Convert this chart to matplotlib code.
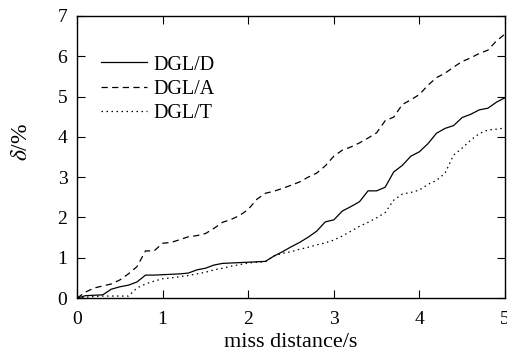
import numpy as np
import matplotlib
matplotlib.use("Agg")
import matplotlib.pyplot as plt

plt.rcParams['font.family'] = ['Liberation Serif', 'DejaVu Serif']
plt.rcParams['mathtext.fontset'] = 'stix'

# miss distance, step 0.1
x = np.round(np.arange(0, 5.01, 0.1), 1)

dgl_d = [0, 0.06, 0.07, 0.08, 0.22, 0.28, 0.32, 0.40, 0.57, 0.57,
         0.58, 0.59, 0.60, 0.62, 0.70, 0.74, 0.82, 0.86, 0.87, 0.88,
         0.89, 0.90, 0.91, 1.04, 1.15, 1.27, 1.38, 1.51, 1.66, 1.89,
         1.94, 2.16, 2.27, 2.39, 2.66, 2.66, 2.75, 3.13, 3.29, 3.52,
         3.63, 3.83, 4.09, 4.21, 4.28, 4.48, 4.56, 4.67, 4.71, 4.86,
         4.97]

dgl_a = [0, 0.15, 0.25, 0.30, 0.35, 0.45, 0.60, 0.78, 1.17, 1.17,
         1.36, 1.38, 1.45, 1.52, 1.55, 1.60, 1.73, 1.88, 1.95, 2.05,
         2.20, 2.45, 2.60, 2.65, 2.72, 2.80, 2.88, 3.00, 3.10, 3.28,
         3.52, 3.67, 3.75, 3.85, 3.97, 4.10, 4.40, 4.49, 4.80, 4.92,
         5.05, 5.28, 5.47, 5.58, 5.73, 5.87, 5.96, 6.07, 6.15, 6.38,
         6.55]

dgl_t = [0, 0.02, 0.04, 0.05, 0.05, 0.05, 0.05, 0.25, 0.35, 0.42,
         0.48, 0.50, 0.53, 0.56, 0.60, 0.64, 0.70, 0.74, 0.79, 0.83,
         0.87, 0.89, 0.90, 1.05, 1.11, 1.15, 1.21, 1.26, 1.32, 1.37,
         1.44, 1.54, 1.66, 1.78, 1.88, 1.99, 2.12, 2.43, 2.58, 2.62,
         2.68, 2.82, 2.92, 3.10, 3.55, 3.72, 3.92, 4.08, 4.17, 4.19,
         4.22]

fig = plt.figure(figsize=(5.07, 3.54), dpi=100)
ax = fig.add_axes([0.152, 0.158, 0.844, 0.797])

ax.plot(x, dgl_d, color='black', lw=0.9, linestyle='-', label='DGL/D')
ax.plot(x, dgl_a, color='black', lw=0.9, linestyle=(0, (5, 3.5)), label='DGL/A')
ax.plot(x, dgl_t, color='black', lw=0.9, linestyle=(0, (1.2, 2.8)), label='DGL/T')

ax.set_xlim(0, 5)
ax.set_ylim(0, 7)
ax.set_xticks([0, 1, 2, 3, 4, 5])
ax.set_yticks([0, 1, 2, 3, 4, 5, 6, 7])
ax.tick_params(direction='in', top=True, right=True, length=6, width=0.8,
               labelsize=14)
ax.tick_params(axis='x', pad=9)
ax.tick_params(axis='y', pad=7)
for s in ax.spines.values():
    s.set_linewidth(1.0)

ax.set_xlabel('miss distance/s', fontsize=16, labelpad=4)
ax.set_ylabel(r'$\delta$/%', fontsize=17)
ax.yaxis.set_label_coords(-0.105, 0.555)

ax.legend(loc='upper left', frameon=False, fontsize=14.5, handlelength=2.3,
          handletextpad=0.3, labelspacing=0.25, borderpad=0, borderaxespad=0,
          bbox_to_anchor=(0.056, 0.86))

fig.savefig('out.png', dpi=100)
